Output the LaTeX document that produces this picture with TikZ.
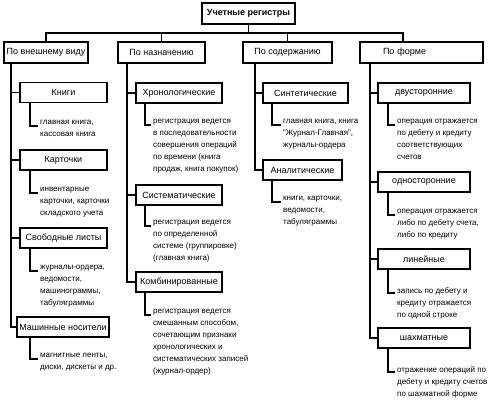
\documentclass[tikz,border=0pt]{standalone}
\usepackage{fontspec}
\setmainfont{Liberation Sans}
\usetikzlibrary{positioning, calc}

\begin{document}
\begin{tikzpicture}[
    x=1pt, y=-1pt,
    % ====================
    % СТИЛИ УЗЛОВ
    % ====================
    root/.style={
        rectangle, draw=black, line width=1.8pt, fill=white,
        font=\fontsize{9}{11}\selectfont\bfseries,
        minimum height=21pt, inner sep=0pt
    },
    group/.style={
        rectangle, draw=black, line width=1.8pt, fill=white,
        font=\fontsize{9}{11}\selectfont,
        minimum height=21pt, inner sep=0pt
    },
    kind/.style={
        group, minimum height=20pt
    },
    note/.style={
        anchor=north west, align=left, inner xsep=2pt, inner ysep=0pt,
        font=\fontsize{8}{12}\selectfont
    },
    line/.style={
        line width=1.8pt, draw=black
    }
]

\useasboundingbox (0,0) rectangle (495,401);

% ====================
% КОРЕНЬ И ГРУППЫ
% ====================
\node[root, minimum width=93pt] (root) at (248.5, 13.5) {Учетные регистры};

\node[group, minimum width=84pt] (vid) at (46, 52.5) {По внешнему виду};
\node[group, minimum width=87pt] (naz) at (161.5, 52.5) {По назначению};
\node[group, minimum width=89pt] (sod) at (287.5, 52.5) {По содержанию};
\node[group, text width=77pt, inner xsep=23pt, align=left] (form) at (421.5, 52.5) {По форме};

% ====================
% ВИДЫ РЕГИСТРОВ
% ====================

% По внешнему виду (x = 63.5)
\node[kind, minimum width=87pt] (kn) at (63.5, 92.5) {Книги};
\node[kind, minimum width=87pt] (kart) at (63.5, 160) {Карточки};
\node[kind, minimum width=87pt] (list) at (63.5, 238) {Свободные листы};
\node[kind, minimum width=92pt] (mash) at (63, 327) {Машинные носители};

% По назначению (x = 179)
\node[kind, minimum width=86pt] (hron) at (179, 93) {Хронологические};
\node[kind, minimum width=86pt] (sist) at (179, 195) {Систематические};
\node[kind, minimum width=86pt] (komb) at (179, 282) {Комбинированные};

% По содержанию
\node[kind, minimum width=85pt] (sint) at (305.5, 93) {Синтетические};
\node[kind, minimum width=79pt] (anal) at (302.5, 170) {Аналитические};

% По форме (x = 424)
\node[kind, minimum width=92pt] (dvu) at (424, 93) {двусторонние};
\node[kind, minimum width=92pt] (odno) at (424, 182) {односторонние};
\node[kind, minimum width=92pt] (lin) at (424, 259) {линейные};
\node[kind, minimum width=92pt] (shah) at (424, 338) {шахматные};

% ====================
% ПОЯСНЕНИЯ
% ====================
\node[note] (kn-d) at (38, 120) {главная книга,\\кассовая книга};
\node[note] (kart-d) at (38, 187) {инвентарные\\карточки, карточки\\складского учета};
\node[note] (list-d) at (38, 265) {журналы-ордера,\\ведомости,\\машинограммы,\\табуляграммы};
\node[note] (mash-d) at (38, 353) {магнитные ленты,\\диски, дискеты и др.};

\node[note] (hron-d) at (151, 119) {регистрация ведется\\в последовательности\\совершения операций\\по времени (книга\\продаж, книга покупок)};
\node[note] (sist-d) at (151, 220) {регистрация ведется\\по определенной\\системе (группировке)\\(главная книга)};
\node[note] (komb-d) at (151, 309) {регистрация ведется\\смешанным способом,\\сочетающим признаки\\хронологических и\\систематических записей\\(журнал-ордер)};

\node[note] (sint-d) at (281, 119) {главная книга, книга\\"Журнал-Главная",\\журналы-ордера};
\node[note] (anal-d) at (281, 196) {книги, карточки,\\ведомости,\\табуляграммы};

\node[note] (dvu-d) at (395, 119) {операция отражается\\по дебету и кредиту\\соответствующих\\счетов};
\node[note] (odno-d) at (395, 209) {операция отражается\\либо по дебету счета,\\либо по кредиту};
\node[note] (lin-d) at (395, 287) {запись по дебету и\\кредиту отражается\\по одной строке};
\node[note] (shah-d) at (395, 366) {отражение операций по\\дебету и кредиту счетов\\по шахматной форме};

% ====================
% СОЕДИНЕНИЯ
% ====================

% Шина от корня к группам
\coordinate (bus) at (0, 33);
\coordinate (formtop) at ([xshift=-18.5pt]form.north);
\draw[line] (root.south) -- (root.south |- bus);
\draw[line] (vid.north) -- (vid.north |- bus) -- (formtop |- bus) -- (formtop);
\draw[line] (naz.north) -- (naz.north |- bus);
\draw[line] (sod.north) -- (sod.north |- bus);

% Стволы групп
\coordinate (t1) at ([xshift=8pt]vid.south west);
\coordinate (t2) at ([xshift=10pt]naz.south west);
\coordinate (t3) at ([xshift=13pt]sod.south west);
\coordinate (t4) at ([xshift=11pt]form.south west);

\draw[line] (t1) |- (kn.west);
\draw[line] (t1) |- (kart.west);
\draw[line] (t1) |- (list.west);
\draw[line] (t1) |- (mash.west);

\draw[line] (t2) |- (hron.west);
\draw[line] (t2) |- (sist.west);
\draw[line] (t2) |- (komb.west);

\draw[line] (t3) |- (sint.west);
\draw[line] (t3) |- (anal.west);

\draw[line] (t4) |- (dvu.west);
\draw[line] (t4) |- (odno.west);
\draw[line] (t4) |- (lin.west);
\draw[line] (t4) |- (shah.west);

% От видов к пояснениям
\draw[line] ([xshift=11pt]kn.south west) |- ([yshift=-6pt]kn-d.north west);
\draw[line] ([xshift=11pt]kart.south west) |- ([yshift=-6pt]kart-d.north west);
\draw[line] ([xshift=11pt]list.south west) |- ([yshift=-6pt]list-d.north west);
\draw[line] ([xshift=14pt]mash.south west) |- ([yshift=-6pt]mash-d.north west);

\draw[line] ([xshift=10pt]hron.south west) |- ([yshift=-6pt]hron-d.north west);
\draw[line] ([xshift=10pt]sist.south west) |- ([yshift=-6pt]sist-d.north west);
\draw[line] ([xshift=10pt]komb.south west) |- ([yshift=-6pt]komb-d.north west);

\draw[line] ([xshift=10pt]sint.south west) |- ([yshift=-6pt]sint-d.north west);
\draw[line] ([xshift=10pt]anal.south west) |- ([yshift=-6pt]anal-d.north west);

\draw[line] ([xshift=11pt]dvu.south west) |- ([yshift=-6pt]dvu-d.north west);
\draw[line] ([xshift=11pt]odno.south west) |- ([yshift=-6pt]odno-d.north west);
\draw[line] ([xshift=11pt]lin.south west) |- ([yshift=-6pt]lin-d.north west);
\draw[line] ([xshift=11pt]shah.south west) |- ([yshift=-6pt]shah-d.north west);

\end{tikzpicture}
\end{document}
